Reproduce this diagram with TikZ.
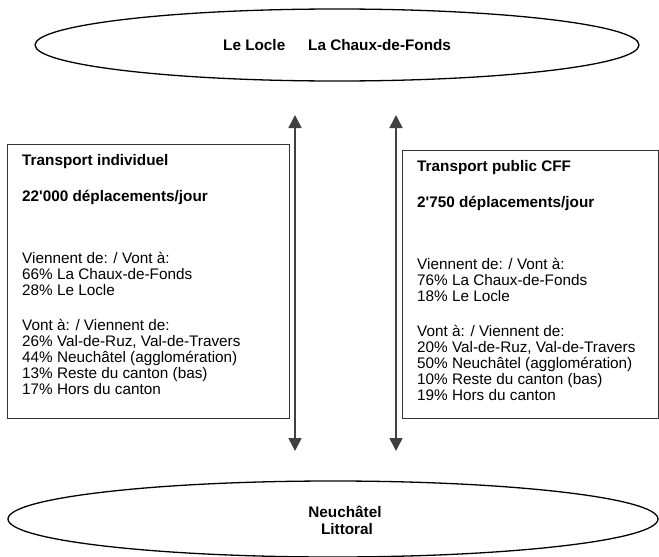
\documentclass[tikz,border=0pt]{standalone}
\usepackage{fontspec}
\newfontfamily\lsans{Liberation Sans}
\usetikzlibrary{shapes.geometric,arrows.meta}
\begin{document}
\begin{tikzpicture}[x=1pt,y=-1pt,
  font=\lsans\fontsize{15.3}{16}\selectfont,
  ell/.style={draw, ellipse, line width=1.3pt, inner sep=0pt},
  boxframe/.style={draw=black!80, line width=1.1pt, inner sep=0pt, anchor=north west},
  txt/.style={anchor=base west, inner sep=0pt},
  btxt/.style={txt, font=\lsans\fontsize{15.3}{16}\selectfont\bfseries},
  ctxt/.style={anchor=base, inner sep=0pt, font=\lsans\fontsize{15.3}{16}\selectfont\bfseries},
  flow/.style={draw=black!75, line width=1.6pt,
    {Triangle[width=13pt,length=13pt]}-{Triangle[width=13pt,length=13pt]}}]
\useasboundingbox (0,0) rectangle (659,557);
% ellipses
\node[ell, minimum width=604pt, minimum height=72pt] (top) at (337,45) {};
\node[ell, minimum width=650pt, minimum height=76pt] (bot) at (333,519) {};
\node[btxt] (t1) at (223,50.5) {Le Locle};
\node[btxt] (t2) at (308,50.5) {La Chaux-de-Fonds};
\node[ctxt] (b1) at (345,517.5) {Neuchâtel};
\node[ctxt] (b2) at (347,534.5) {Littoral};
% boxes
\node[boxframe, minimum width=282pt, minimum height=274pt] (lbox) at (7,144) {};
\node[boxframe, minimum width=256pt, minimum height=268pt] (rbox) at (402,150) {};
% left box text
\node[btxt] (l1) at (22,165) {Transport individuel};
\node[btxt] (l2) at (22,201.5) {22'000 déplacements/jour};
\foreach \y/\t [count=\i] in {263.5/{Viennent de: / Vont à:},279.5/{66\% La Chaux-de-Fonds},295.5/{28\% Le Locle},330.5/{Vont à: / Viennent de:},346.5/{26\% Val-de-Ruz, Val-de-Travers},362.5/{44\% Neuchâtel (agglomération)},378.5/{13\% Reste du canton (bas)},394.5/{17\% Hors du canton}}
  \node[txt] (la\i) at (22,\y) {\t};
% right box text
\node[btxt] (r1) at (417,171) {Transport public CFF};
\node[btxt] (r2) at (417,207.5) {2'750 déplacements/jour};
\foreach \y/\t [count=\i] in {269.5/{Viennent de: / Vont à:},285.5/{76\% La Chaux-de-Fonds},301.5/{18\% Le Locle},336.5/{Vont à: / Viennent de:},352.5/{20\% Val-de-Ruz, Val-de-Travers},368.5/{50\% Neuchâtel (agglomération)},384.5/{10\% Reste du canton (bas)},400.5/{19\% Hors du canton}}
  \node[txt] (ra\i) at (417,\y) {\t};
% arrows
\coordinate (a1t) at (295,115);
\coordinate (a1b) at (295,451);
\coordinate (a2t) at (396,115);
\coordinate (a2b) at (396,451);
\draw[flow] (a1b) -- (a1t);
\draw[flow] (a2b) -- (a2t);
\end{tikzpicture}
\end{document}
